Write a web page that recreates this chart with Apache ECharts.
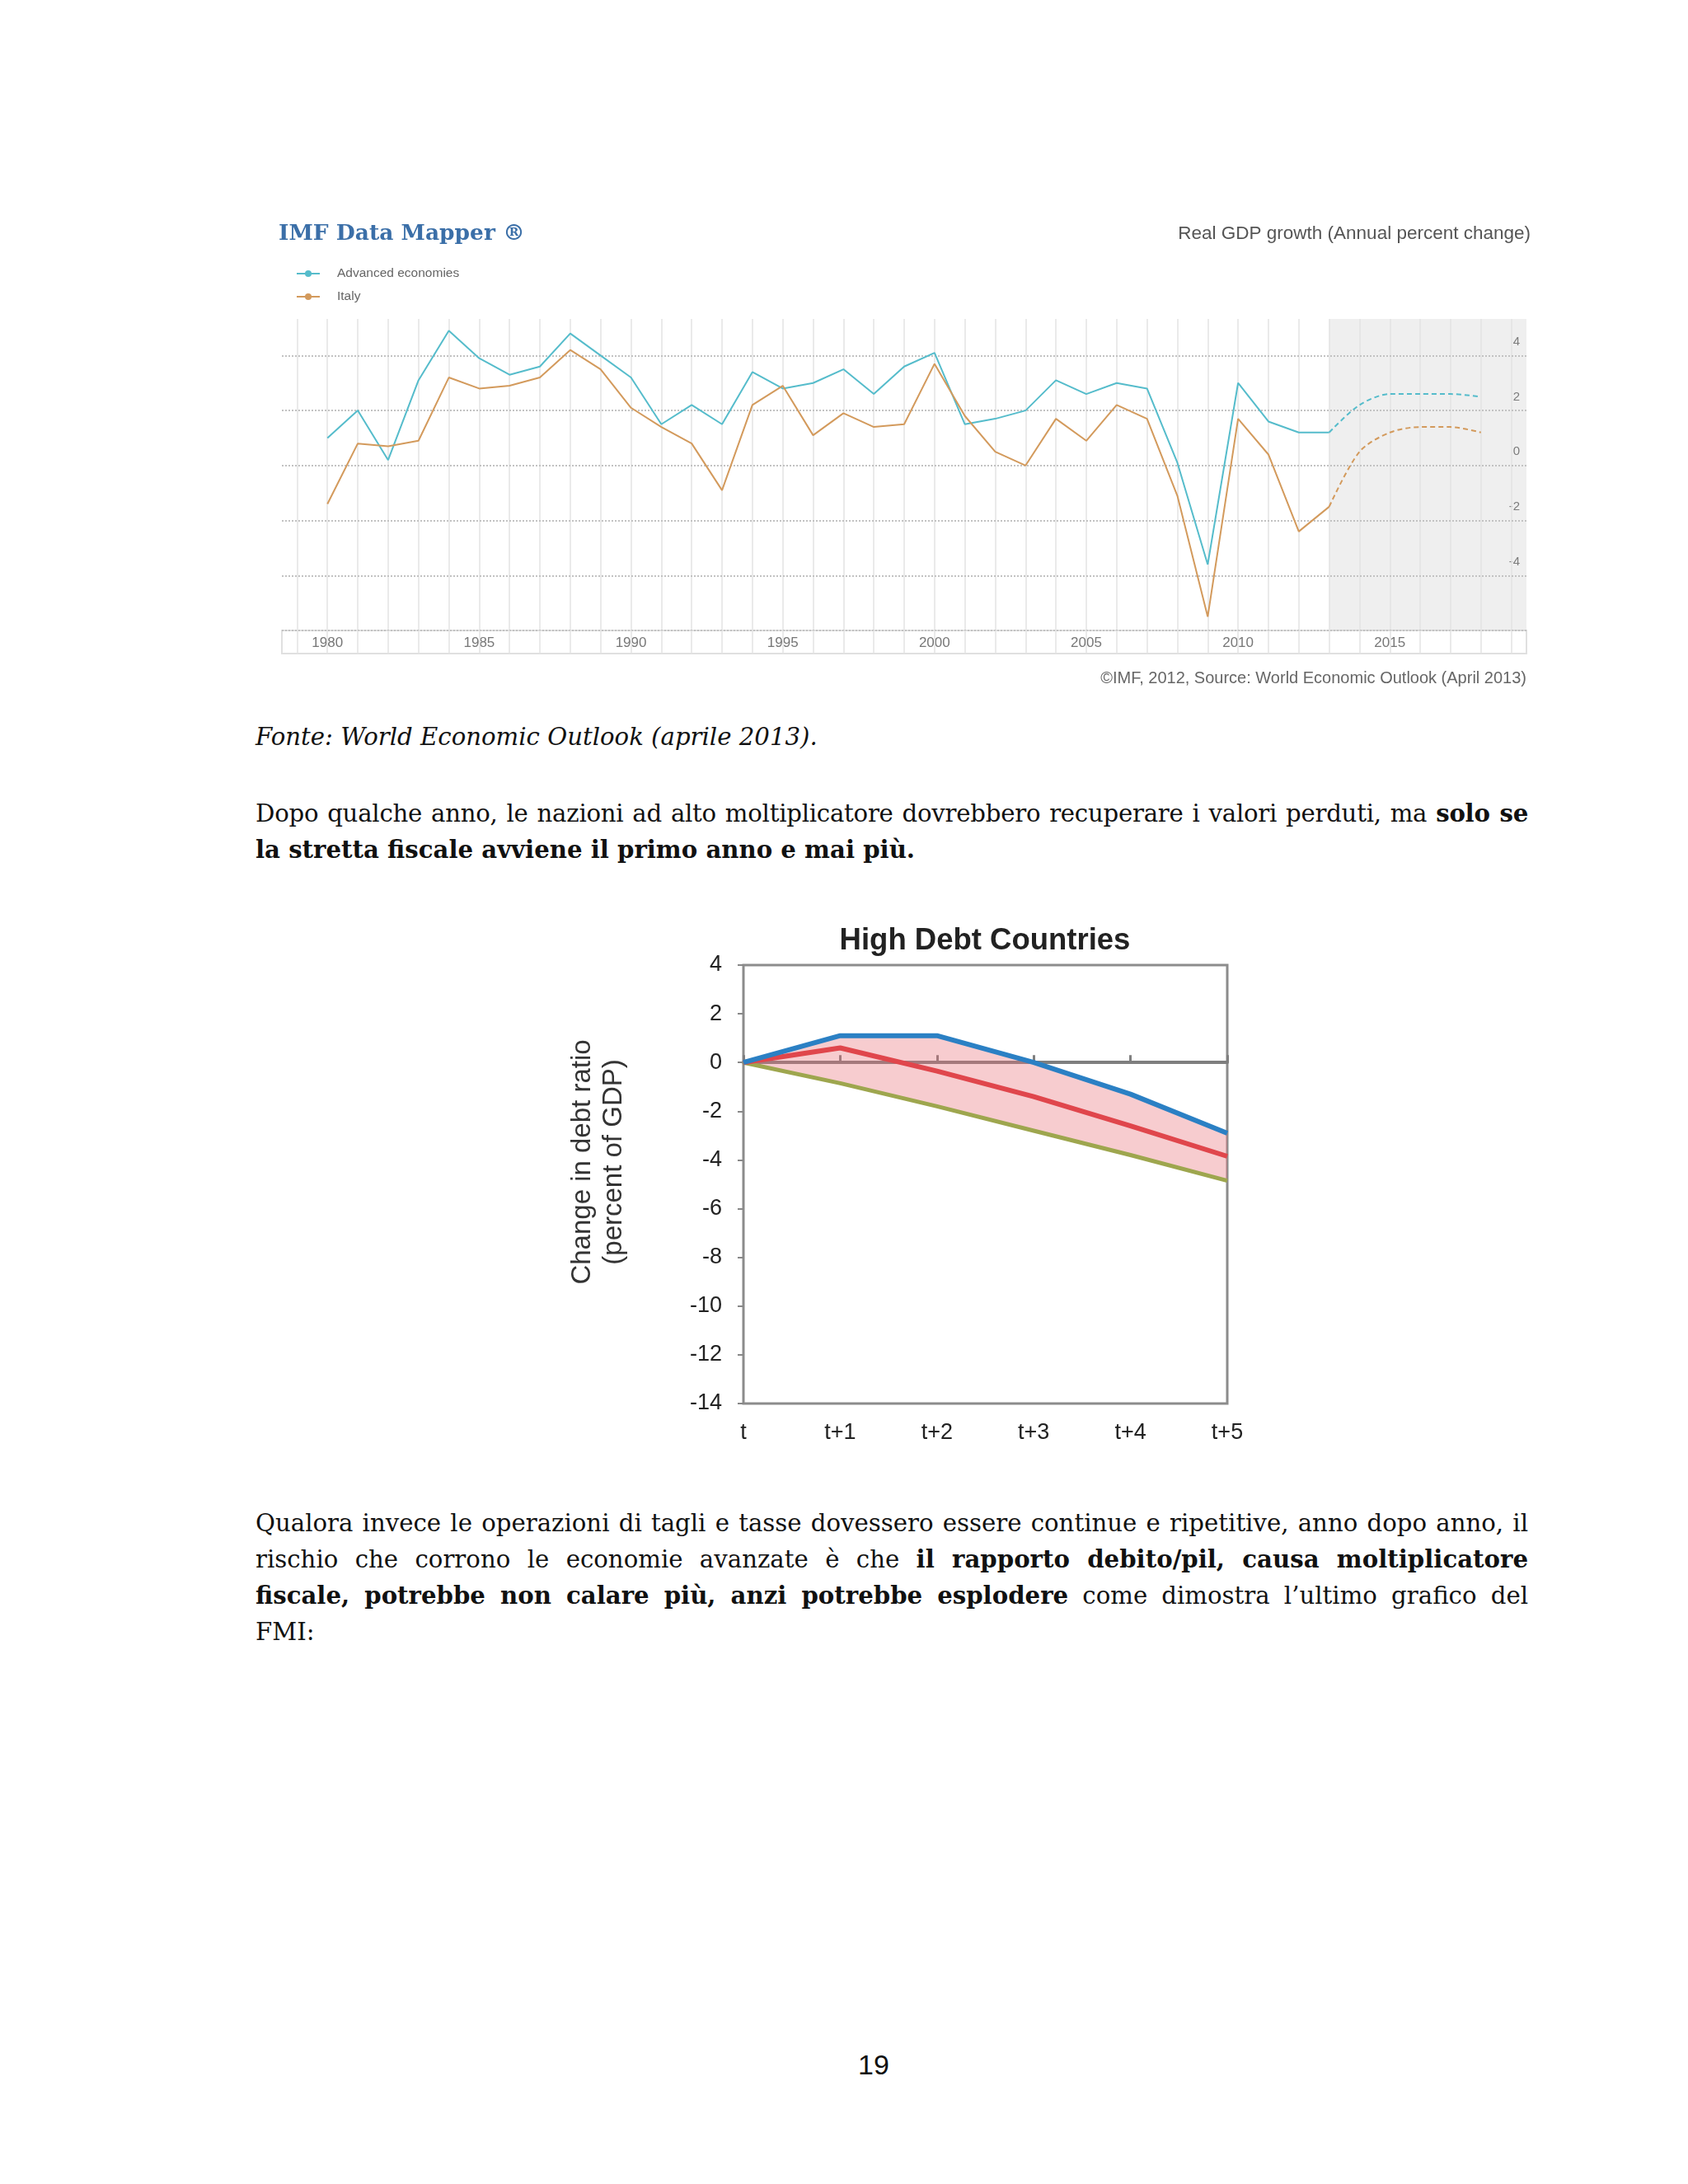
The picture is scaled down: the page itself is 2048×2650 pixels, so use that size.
<!DOCTYPE html>
<html><head><meta charset="utf-8">
<script src="https://cdn.jsdelivr.net/npm/echarts@6/dist/echarts.min.js"></script>
<style>
html,body{margin:0;padding:0;background:#fff;}
body{width:2048px;height:2650px;position:relative;overflow:hidden;}
.ln{position:absolute;left:310px;width:1544px;font-family:"DejaVu Serif",serif;font-size:29.2px;line-height:44px;white-space:nowrap;color:#111;}
.j{text-align:justify;text-align-last:justify;}
.pg{position:absolute;left:960px;width:200px;top:2486px;text-align:center;font-family:"Liberation Sans",Arial,sans-serif;font-size:34px;color:#111;}
</style></head><body>
<div id="c1" style="position:absolute;left:300px;top:240px;width:1600px;height:620px;"></div>
<div id="c2" style="position:absolute;left:640px;top:1090px;width:960px;height:700px;"></div>

<div class="ln" style="top:872px;font-style:italic;">Fonte: World Economic Outlook (aprile 2013).</div>
<div class="ln j" style="top:965px;letter-spacing:-0.25px;">Dopo qualche anno, le nazioni ad alto moltiplicatore dovrebbero recuperare i valori perduti, ma <b>solo se</b></div>
<div class="ln" style="top:1009px;"><b>la stretta fiscale avviene il primo anno e mai più.</b></div>

<div class="ln j" style="top:1826px;">Qualora invece le operazioni di tagli e tasse dovessero essere continue e ripetitive, anno dopo anno, il</div>
<div class="ln j" style="top:1870px;">rischio che corrono le economie avanzate è che <b>il rapporto debito/pil, causa moltiplicatore</b></div>
<div class="ln j" style="top:1914px;"><b>fiscale, potrebbe non calare più, anzi potrebbe esplodere</b> come dimostra l’ultimo grafico del</div>
<div class="ln" style="top:1958px;">FMI:</div>

<div class="pg">19</div>

<script>
// ---------- Chart 1 data ----------
const years = [1980,1981,1982,1983,1984,1985,1986,1987,1988,1989,1990,1991,1992,1993,1994,1995,1996,1997,1998,1999,2000,2001,2002,2003,2004,2005,2006,2007,2008,2009,2010,2011,2012,2013,2014,2015,2016,2017,2018];
const advanced = [1.0,2.0,0.2,3.1,4.9,3.9,3.3,3.6,4.8,4.0,3.2,1.5,2.2,1.5,3.4,2.8,3.0,3.5,2.6,3.6,4.1,1.5,1.7,2.0,3.1,2.6,3.0,2.8,0.1,-3.6,3.0,1.6,1.2,1.2,2.2,2.6,2.6,2.6,2.5];
const italy = [-1.4,0.8,0.7,0.9,3.2,2.8,2.9,3.2,4.2,3.5,2.1,1.4,0.8,-0.9,2.2,2.9,1.1,1.9,1.4,1.5,3.7,1.8,0.5,0.0,1.7,0.9,2.2,1.7,-1.1,-5.5,1.7,0.4,-2.4,-1.5,0.5,1.2,1.4,1.4,1.2];
const forecastStart = 2013;
const gdpTicks = [-6,-4,-2,0,2,4];
const gridYears = [1979,1980,1981,1982,1983,1984,1985,1986,1987,1988,1989,1990,1991,1992,1993,1994,1995,1996,1997,1998,1999,2000,2001,2002,2003,2004,2005,2006,2007,2008,2009,2010,2011,2012,2013,2014,2015,2016,2017,2018,2019];

// ---------- Chart 2 data ----------
const periods = ['t','t+1','t+2','t+3','t+4','t+5'];
const upperBound = [0,1.1,1.1,0,-1.3,-2.9];
const central = [0,0.6,-0.35,-1.4,-2.6,-3.85];
const lowerBound = [0,-0.85,-1.8,-2.8,-3.8,-4.85];

const xMin = 1978.5, xMax = 2019.5;
const pairs = (arr, test) => years.map((y,i)=>[y,arr[i]]).filter(p=>test(p[0]));
const hist = y => y <= forecastStart;
const fut = y => y >= forecastStart;
const TEAL = '#55bccb', ORANGE = '#d39a5c';

const c1 = echarts.init(document.getElementById('c1'), null, {renderer:'canvas'});
c1.setOption({
  animation:false,
  grid:[
    {left:42, top:147, width:1510, height:378},
    {left:42, top:525, width:1510, height:28, show:true, borderColor:'#e0e0e0', borderWidth:2, backgroundColor:'transparent'}
  ],
  xAxis:[
    {gridIndex:0, type:'value', min:xMin, max:xMax, minInterval:5, maxInterval:5, splitNumber:8,
     splitLine:{show:false}, axisLine:{show:false}, axisTick:{show:false},
     axisLabel:{formatter:v=> (v%5===0 ? String(v) : ''), color:'#777', fontSize:17, margin:7, fontFamily:'Liberation Sans'}},
    {gridIndex:1, type:'value', min:xMin, max:xMax, show:false}
  ],
  yAxis:[
    {gridIndex:0, type:'value', min:-6, max:5.33, interval:2, position:'right',
     axisLine:{show:false}, axisTick:{show:false}, splitLine:{show:false},
     axisLabel:{inside:true, verticalAlign:'bottom', padding:[0,0,9,0], margin:8,
       formatter:v=> (v>=-4 && v<=4 && Number.isInteger(v)) ? String(v) : '',
       color:'#777', fontSize:15, fontFamily:'Liberation Sans'}},
    {gridIndex:1, type:'value', min:0, max:1, show:false}
  ],
  legend:{orient:'vertical', left:54, top:79, itemWidth:28, itemHeight:10, itemGap:12,
    textStyle:{color:'#666', fontSize:15.5, fontFamily:'Liberation Sans', padding:[0,0,0,16]},
    data:['Advanced economies','Italy']},
  graphic:[
    {type:'text', x:38, y:44, style:{text:'IMF Data Mapper ®', font:'bold 26.5px "DejaVu Serif"', fill:'#3b6fa8', verticalAlign:'middle'}},
    {type:'text', x:1557, y:44, style:{text:'Real GDP growth (Annual percent change)', font:'22.5px "Liberation Sans"', fill:'#555', align:'right', verticalAlign:'middle'}},
    {type:'text', x:1552, y:583, style:{text:'©IMF, 2012, Source: World Economic Outlook (April 2013)', font:'20px "Liberation Sans"', fill:'#666', align:'right', verticalAlign:'middle'}}
  ],
  series:[
    {name:'grid-lines', type:'line', xAxisIndex:0, yAxisIndex:0, data:[[1980,0]], symbol:'none', lineStyle:{opacity:0}, silent:true,
     markLine:{silent:true, symbol:'none', label:{show:false}, animation:false,
       data: gridYears.map(y=>({xAxis:y, lineStyle:{color:'#e3e3e3', width:1.5, type:'solid'}}))
         .concat(gdpTicks.map(t=>({yAxis:t, lineStyle:{color:'#c2c2c2', width:2, type:'dotted'}})))}},
    {name:'band-lines', type:'line', xAxisIndex:1, yAxisIndex:1, data:[[1980,0.5]], symbol:'none', lineStyle:{opacity:0}, silent:true,
     markLine:{silent:true, symbol:'none', label:{show:false}, animation:false,
       data: gridYears.map(y=>({xAxis:y, lineStyle:{color:'#e3e3e3', width:1.5, type:'solid'}}))}},
    {name:'Advanced economies', type:'line', xAxisIndex:0, yAxisIndex:0, data:pairs(advanced,hist), symbol:'circle', symbolSize:6, showSymbol:false,
     lineStyle:{color:TEAL, width:2}, itemStyle:{color:TEAL}, z:5,
     markArea:{silent:true, itemStyle:{color:'rgba(150,150,150,0.15)'}, data:[[{xAxis:forecastStart},{xAxis:xMax}]]}},
    {name:'Advanced economies', type:'line', xAxisIndex:0, yAxisIndex:0, data:pairs(advanced,fut), symbol:'none', smooth:0.3,
     lineStyle:{color:TEAL, width:2, type:[6,4]}, itemStyle:{color:TEAL}, z:5},
    {name:'Italy', type:'line', xAxisIndex:0, yAxisIndex:0, data:pairs(italy,hist), symbol:'circle', symbolSize:6, showSymbol:false,
     lineStyle:{color:ORANGE, width:2}, itemStyle:{color:ORANGE}, z:5},
    {name:'Italy', type:'line', xAxisIndex:0, yAxisIndex:0, data:pairs(italy,fut), symbol:'none', smooth:0.3,
     lineStyle:{color:ORANGE, width:2, type:[6,4]}, itemStyle:{color:ORANGE}, z:5}
  ]
});

const c2 = echarts.init(document.getElementById('c2'), null, {renderer:'canvas'});
c2.setOption({
  animation:false,
  grid:{left:262, top:81, width:587, height:532, show:true, borderColor:'#8c8c8c', borderWidth:3},
  graphic:[
    {type:'text', x:555, y:52, style:{text:'High Debt Countries', font:'bold 36.5px "Liberation Sans"', fill:'#222', align:'center', verticalAlign:'middle'}}
  ],
  xAxis:[
    {type:'category', data:periods, boundaryGap:false, axisLine:{show:false, onZero:false}, axisTick:{show:false}, splitLine:{show:false},
     axisLabel:{margin:22, fontSize:27, color:'#222', fontFamily:'Liberation Sans'}},
    {type:'category', data:periods, boundaryGap:false, position:'bottom', axisLine:{show:true, onZero:true, lineStyle:{color:'#7f7f7f', width:4}},
     axisTick:{show:true, inside:true, length:9, lineStyle:{color:'#7f7f7f', width:3}}, axisLabel:{show:false}, splitLine:{show:false}}
  ],
  yAxis:{type:'value', min:-14, max:4, interval:2, axisLine:{show:false}, axisTick:{show:true, length:7, lineStyle:{color:'#888', width:2}},
    splitLine:{show:false}, axisLabel:{fontSize:27, color:'#222', margin:26, fontFamily:'Liberation Sans'},
    name:'Change in debt ratio\n(percent of GDP)', nameLocation:'middle', nameRotate:90, nameGap:138,
    nameTextStyle:{fontSize:33, color:'#333', lineHeight:38, fontFamily:'Liberation Sans', padding:[0,0,0,54]}},
  series:[
    {type:'line', data:lowerBound, stack:'band', stackStrategy:'all', symbol:'none', lineStyle:{opacity:0}, silent:true},
    {type:'line', data:upperBound.map((u,i)=>u-lowerBound[i]), stack:'band', stackStrategy:'all', symbol:'none', lineStyle:{opacity:0},
     areaStyle:{color:'rgba(232,110,118,0.5)'}, silent:true},
    {type:'line', data:lowerBound, symbol:'none', lineStyle:{color:'#9ea64e', width:5}, z:4},
    {type:'line', data:central, symbol:'none', lineStyle:{color:'#e0464c', width:6}, z:5},
    {type:'line', data:upperBound, symbol:'none', lineStyle:{color:'#2b80c4', width:6}, z:6}
  ]
});
</script>
</body></html>
